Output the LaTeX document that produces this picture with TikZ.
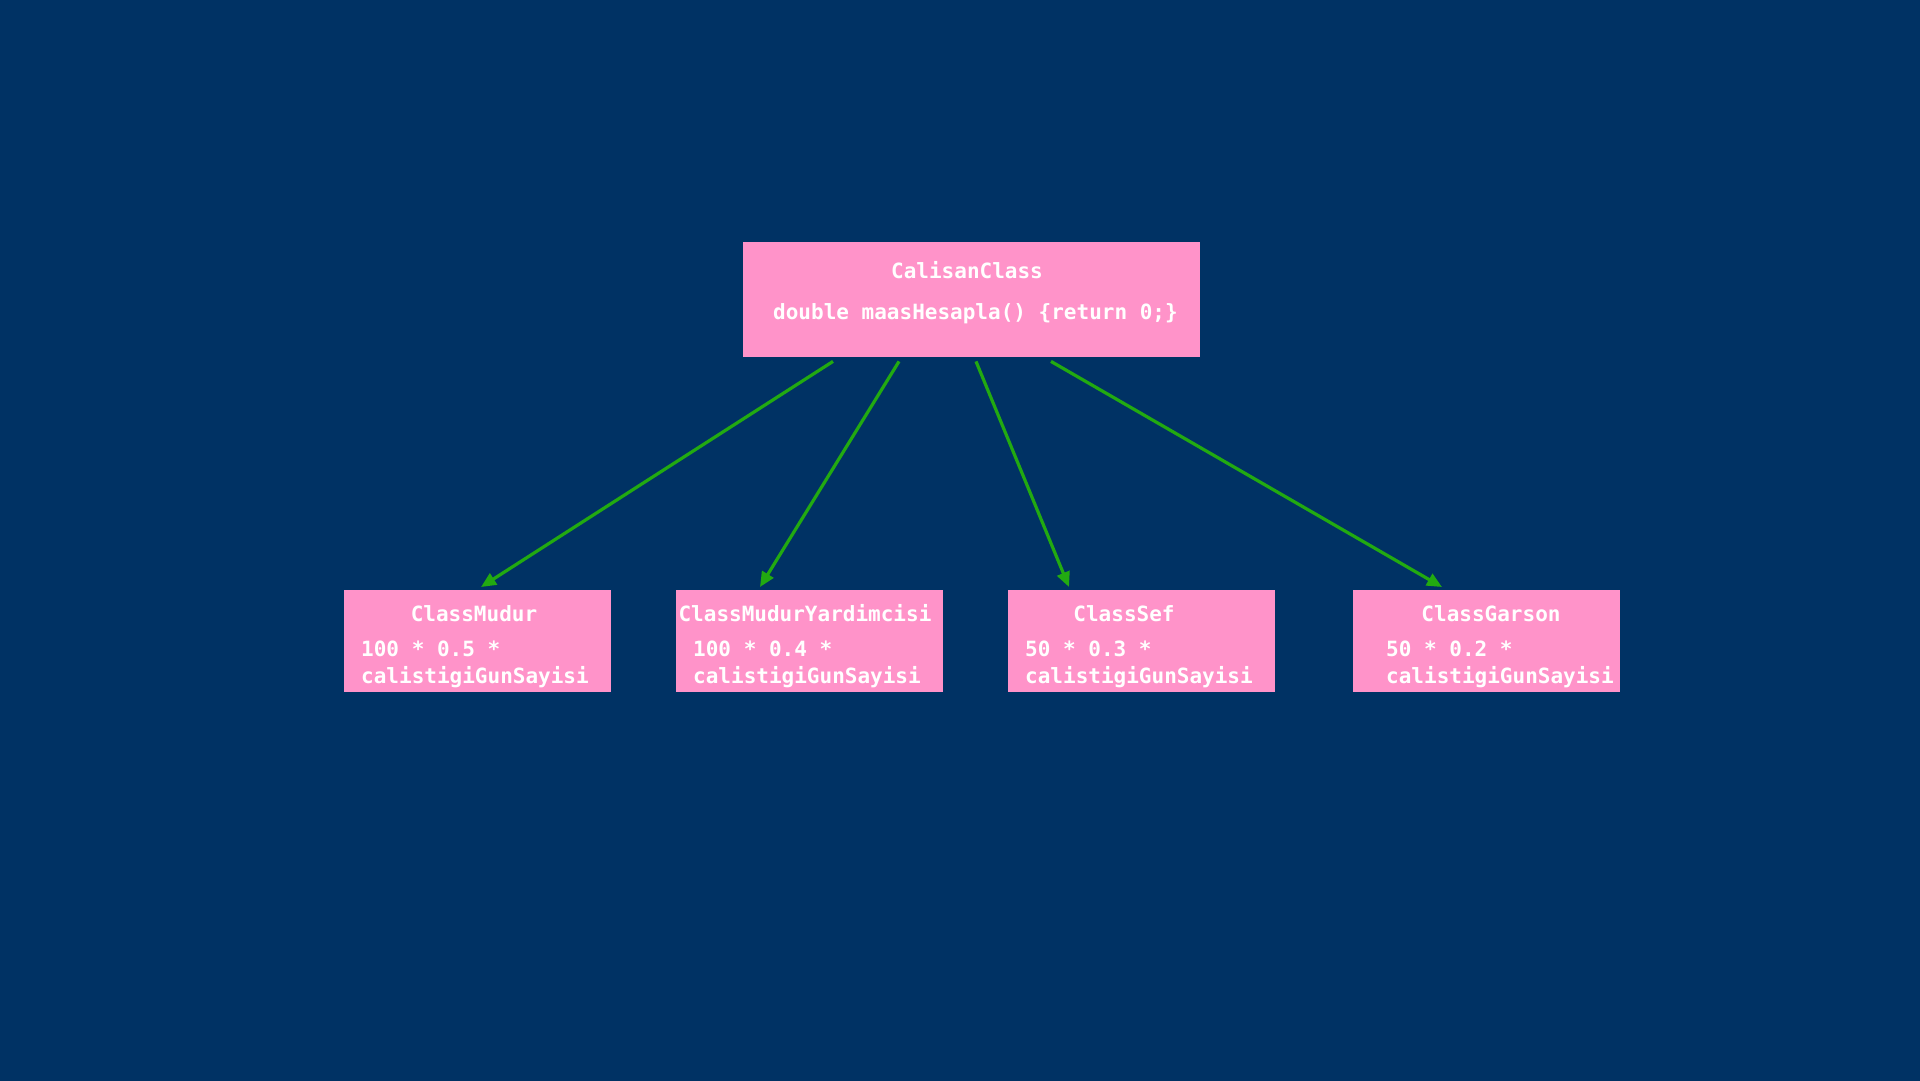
\documentclass[tikz,border=0pt]{standalone}
\usepackage{fontspec}
\setmonofont{DejaVu Sans Mono}
\usetikzlibrary{calc,arrows.meta}
\definecolor{bgc}{HTML}{003264}
\definecolor{boxc}{HTML}{FF93C9}
\definecolor{arrc}{HTML}{22AA11}
\tikzset{
  box/.style={fill=boxc, draw=none, rectangle, inner sep=0pt, anchor=north west},
  ttl/.style={text=white, font=\ttfamily\bfseries\fontsize{21}{27}\selectfont, inner sep=0pt, anchor=base},
  body/.style={text=white, font=\ttfamily\bfseries\fontsize{21}{27}\selectfont, inner sep=0pt, anchor=base west, align=left},
  arr/.style={draw=arrc, line width=3.2pt, -{Triangle[length=15pt,width=13pt]}},
}
\begin{document}
\begin{tikzpicture}[x=1pt,y=-1pt]
\useasboundingbox (0,0) rectangle (1920,1080);
\fill[bgc] (-10,-10) rectangle (1930,1090);
% top box
\node[box, minimum width=457pt, minimum height=115pt] (top) at (743,242) {};
\node[ttl] (toptitle) at (967,278) {CalisanClass};
\node[body] (topbody) at (773,319) {double maasHesapla() \{return 0;\}};
% bottom boxes
\node[box, minimum width=267pt, minimum height=102pt] (b1) at (344,590) {};
\node[box, minimum width=267pt, minimum height=102pt] (b2) at (676,590) {};
\node[box, minimum width=267pt, minimum height=102pt] (b3) at (1008,590) {};
\node[box, minimum width=267pt, minimum height=102pt] (b4) at (1353,590) {};
\node[ttl] (t1) at (474,621) {ClassMudur};
\node[ttl] (t2) at (805,621) {ClassMudurYardimcisi};
\node[ttl] (t3) at (1124,621) {ClassSef};
\node[ttl] (t4) at (1491,621) {ClassGarson};
\node[body] (d1) at (361,683) {100 * 0.5 *\\calistigiGunSayisi};
\node[body] (d2) at (693,683) {100 * 0.4 *\\calistigiGunSayisi};
\node[body] (d3) at (1025,683) {50 * 0.3 *\\calistigiGunSayisi};
\node[body] (d4) at (1386,683) {50 * 0.2 *\\calistigiGunSayisi};
% arrows
\draw[arr] ($(top.south west)+(90,4)$) -- ($(b1.north west)+(137,-3)$);
\draw[arr] ($(top.south west)+(156,4)$) -- ($(b2.north west)+(84,-3)$);
\draw[arr] ($(top.south west)+(233,4)$) -- ($(b3.north west)+(61,-3)$);
\draw[arr] ($(top.south west)+(308,4)$) -- ($(b4.north west)+(89,-3)$);
\end{tikzpicture}
\end{document}
